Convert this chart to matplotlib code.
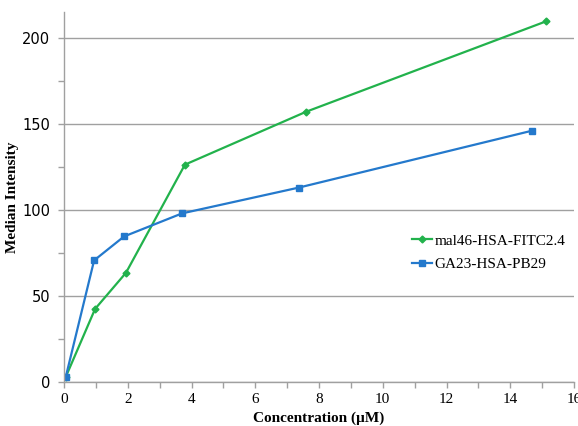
import numpy as np
import matplotlib
matplotlib.use("Agg")
import matplotlib.pyplot as plt
from matplotlib.ticker import MultipleLocator

# data
mal_x = [0.05, 0.97, 1.94, 3.79, 7.59, 15.12]
mal_y = [3, 42.5, 63.5, 126.3, 157, 209.5]
ga_x = [0.05, 0.94, 1.88, 3.70, 7.37, 14.68]
ga_y = [3, 70.7, 84.6, 98, 113, 146]

green = "#22b24c"
blue = "#2479cc"

fig = plt.figure(figsize=(5.78, 4.26), dpi=100)
ax = fig.add_axes([0.111, 0.103, 0.882, 0.869])

ax.plot(mal_x, mal_y, color=green, lw=1.6, marker="D", ms=3.5, label="mal46-HSA-FITC2.4")
ax.plot(ga_x, ga_y, color=blue, lw=1.6, marker="s", ms=4, label="GA23-HSA-PB29")

ax.set_xlim(0, 16)
ax.set_ylim(0, 215)
ax.xaxis.set_major_locator(MultipleLocator(2))
ax.xaxis.set_minor_locator(MultipleLocator(1))
ax.yaxis.set_major_locator(MultipleLocator(50))
ax.yaxis.set_minor_locator(MultipleLocator(25))
ax.grid(axis="y", which="major", color="#a0a0a0", lw=1)
ax.set_axisbelow(True)

for s in ["top", "right"]:
    ax.spines[s].set_visible(False)
for s in ["left", "bottom"]:
    ax.spines[s].set_color("#a0a0a0")
    ax.spines[s].set_linewidth(1)

ax.tick_params(which="both", color="#a0a0a0", direction="out", length=4, width=1)
ax.tick_params(axis="y", which="both", pad=6)
for t in ax.get_xticklabels():
    t.set_family("Liberation Serif")
    t.set_fontsize(11)
for t in ax.get_yticklabels():
    t.set_family("DejaVu Sans")
    t.set_fontsize(10.5)

ax.set_xlabel("Concentration (µM)", family="Liberation Serif", fontweight="bold", fontsize=11)
ax.set_ylabel("Median Intensity", family="Liberation Serif", fontweight="bold", fontsize=11, labelpad=2)

leg = ax.legend(loc="center left", bbox_to_anchor=(0.655, 0.35), frameon=False,
                prop={"family": "Liberation Serif", "size": 11}, handlelength=1.3,
                handletextpad=0.2, labelspacing=0.65)

fig.savefig("out.png", dpi=100)
